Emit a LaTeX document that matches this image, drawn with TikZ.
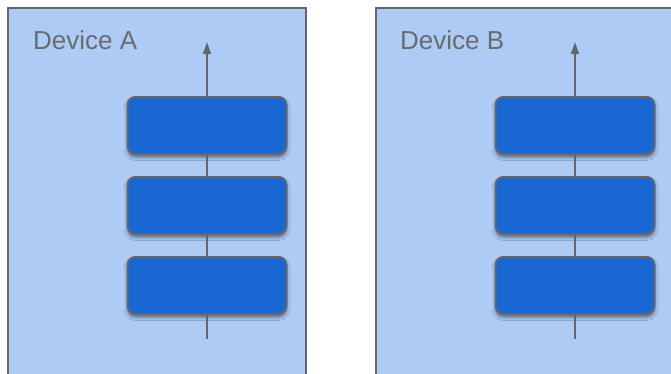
\documentclass[tikz,border=0pt]{standalone}
\usepackage{fontspec}
\setmainfont{Liberation Sans}
\usetikzlibrary{arrows.meta,shadows.blur}
\definecolor{panelfill}{HTML}{AECBF5}
\definecolor{edgegray}{HTML}{63666A}
\definecolor{layerblue}{HTML}{1967D2}
\definecolor{labelgray}{HTML}{686B70}
\tikzset{
  panel/.style={draw=edgegray, line width=2pt, fill=panelfill},
  layer/.style={draw=edgegray, line width=2pt, fill=layerblue, rounded corners=8pt,
    minimum width=159pt, minimum height=57pt, inner sep=0pt,
    blur shadow={shadow xshift=0pt, shadow yshift=-3pt, shadow blur radius=3.5pt, shadow opacity=50}},
  link/.style={draw=edgegray, line width=1.6pt},
  uparrow/.style={link, -{Triangle[length=12pt,width=8pt]}},
  devlabel/.style={text=labelgray, font=\fontsize{26}{30}\selectfont, anchor=base west, inner sep=0pt}
}
\begin{document}
\begin{tikzpicture}[x=1pt,y=-1pt]
  \useasboundingbox (0,0) rectangle (671,373);
  \clip (0,0) rectangle (671,373);

  % device panels
  \draw[panel] (8,8) rectangle (306,390);
  \draw[panel] (376,8) rectangle (690,390);
  \node[devlabel] (labA) at (33,49.5) {Device A};
  \node[devlabel] (labB) at (400,49.5) {Device B};

  % device A stack
  \coordinate (inA) at (207,339);
  \coordinate (outA) at (207,42);
  \node[layer] (a3) at (207,285.5) {};
  \node[layer] (a2) at (207,205.5) {};
  \node[layer] (a1) at (207,125.5) {};
  \draw[link] (inA) -- (a3.south);
  \draw[link] (a3.north) -- (a2.south);
  \draw[link] (a2.north) -- (a1.south);
  \draw[uparrow] (a1.north) -- (outA);

  % device B stack
  \coordinate (inB) at (575,339);
  \coordinate (outB) at (575,42);
  \node[layer] (b3) at (575,285.5) {};
  \node[layer] (b2) at (575,205.5) {};
  \node[layer] (b1) at (575,125.5) {};
  \draw[link] (inB) -- (b3.south);
  \draw[link] (b3.north) -- (b2.south);
  \draw[link] (b2.north) -- (b1.south);
  \draw[uparrow] (b1.north) -- (outB);
\end{tikzpicture}
\end{document}
